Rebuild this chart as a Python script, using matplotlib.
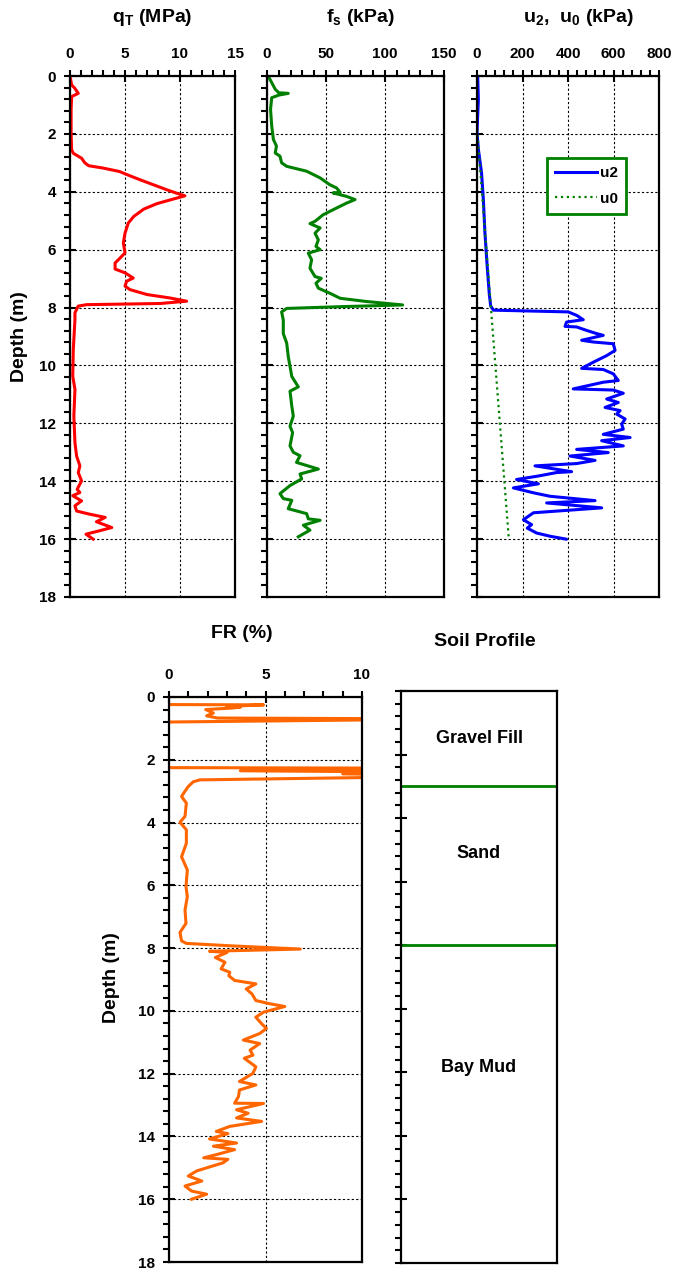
import numpy as np
import matplotlib
matplotlib.use('Agg')
import matplotlib.pyplot as plt
from matplotlib.ticker import MultipleLocator, NullLocator

plt.rcParams['font.family'] = ['Liberation Sans', 'DejaVu Sans']
plt.rcParams['font.weight'] = 'bold'
plt.rcParams['mathtext.fontset'] = 'custom'
plt.rcParams['mathtext.rm'] = 'Liberation Sans:bold'
plt.rcParams['mathtext.bf'] = 'Liberation Sans:bold'
plt.rcParams['mathtext.it'] = 'Liberation Sans:bold'

# cone tip resistance qT (MPa)
qt_depth = [0, 0.31, 0.43, 0.6, 0.71, 1.17, 2.0, 2.55, 2.67, 2.84, 3.0, 3.1, 3.18, 3.3, 3.41,
            3.59, 3.76, 3.93, 4.05, 4.14, 4.25, 4.41, 4.6, 4.85, 5.08, 5.43, 5.77, 6.11, 6.29,
            6.46, 6.67, 6.8, 6.98, 7.09, 7.26, 7.38, 7.55, 7.67, 7.78, 7.86, 7.9, 7.95, 8.18,
            8.41, 9.45, 10.37, 10.83, 11.75, 12.67, 13.13, 13.47, 13.7, 13.99, 14.28, 14.39,
            14.5, 14.68, 14.85, 15.03, 15.14, 15.25, 15.4, 15.6, 15.71, 15.83, 16.0]
qt_val = [0, 0.15, 0.45, 0.75, 0.15, 0.1, 0.1, 0.15, 0.3, 1.05, 1.35, 1.7, 3.0, 4.5, 5.2,
          6.4, 7.6, 8.8, 9.7, 10.45, 9.4, 7.9, 6.7, 5.8, 5.3, 5.0, 4.85, 5.0, 4.55,
          4.1, 4.1, 5.0, 5.75, 5.15, 5.0, 5.45, 7.0, 9.1, 10.6, 8.2, 1.5, 0.75, 0.45,
          0.45, 0.3, 0.25, 0.45, 0.35, 0.45, 0.6, 0.9, 0.75, 1.05, 0.65, 0.9,
          0.25, 1.05, 0.45, 0.6, 1.8, 3.2, 2.4, 3.8, 2.7, 1.45, 2.1]

# sleeve friction fs (kPa)
fs_depth = [0, 0.23, 0.46, 0.58, 0.6, 0.66, 0.75, 1.15, 1.73, 2.19, 2.42, 2.66, 2.77, 3.0,
            3.12, 3.29, 3.52, 3.75, 3.87, 4.02, 4.04, 4.16, 4.27, 4.39, 4.56, 4.79, 5.02,
            5.1, 5.25, 5.43, 5.66, 5.89, 6.0, 6.12, 6.35, 6.64, 6.93, 6.99, 7.16, 7.33,
            7.5, 7.68, 7.79, 7.91, 7.97, 8.03, 8.15, 8.43, 8.9, 9.23, 9.69, 10.03, 10.38,
            10.74, 10.89, 11.4, 11.75, 12.1, 12.32, 12.78, 13.0, 13.12, 13.35, 13.58,
            13.75, 13.92, 14.15, 14.43, 14.6, 14.66, 14.95, 15.12, 15.3, 15.35, 15.52,
            15.69, 15.92]
fs_val = [1, 4, 7, 10, 18, 10, 4, 3, 4, 5.4, 8, 7, 11, 12.4,
          16.7, 33.6, 45, 53, 59, 62, 56, 67.5, 74.6, 67.5, 59, 47.7, 40.7,
          36.4, 45, 40.7, 43.5, 41.5, 45, 35, 37.8, 36.4, 40.7, 46, 41.5, 43.5,
          53, 62, 84, 115, 62, 16.7, 12.4, 13.8, 13.8, 16.7, 18, 19.5, 21,
          26.5, 19.5, 21, 22.3, 19.5, 21.7, 19.5, 22.3, 28, 25, 43.5,
          28, 29.4, 19.5, 11, 13.8, 21, 18, 33.6, 35, 45, 30.8,
          36.4, 26.5]

# pore pressure u2 (kPa)
u2_depth = [0, 0.8, 1.95, 2.53, 3.35, 4.28, 5.44, 6.6, 7.53, 7.94, 8.09, 8.15, 8.27, 8.42,
            8.5, 8.65, 8.67, 8.79, 8.9, 8.96, 9.13, 9.19, 9.25, 9.48, 9.66, 9.89, 10.1,
            10.14, 10.29, 10.52, 10.58, 10.81, 10.85, 10.96, 11.16, 11.28, 11.45, 11.56,
            11.68, 11.85, 12.03, 12.2, 12.38, 12.49, 12.6, 12.78, 12.9, 13.01, 13.13,
            13.28, 13.39, 13.47, 13.67, 13.7, 13.82, 13.94, 14.09, 14.23, 14.4, 14.52,
            14.67, 14.75, 14.92, 15.09, 15.33, 15.5, 15.62, 15.79, 15.9, 16.0]
u2_val = [3, 6, 0, 6, 20, 28, 35, 45, 54, 60, 72, 401, 438, 467,
          394, 387, 438, 482, 526, 555, 460, 511, 599, 607, 570, 511, 460,
          555, 599, 621, 555, 423, 599, 643, 570, 621, 563, 629,
          614, 651, 636, 643, 555, 673, 548, 643, 438, 577, 409,
          519, 438, 255, 416, 350, 270, 174, 270, 160, 248, 321,
          519, 306, 548, 248, 204, 240, 221, 262, 321, 391]

# hydrostatic pore pressure u0 (kPa)
u0_depth = [0, 1.8, 16.0]
u0_val = [0, 0, 140]

# friction ratio FR (%)
fr_depth = [0, 0.24, 0.25, 0.3, 0.32, 0.35, 0.4, 0.51, 0.6, 0.67, 0.7, 0.8, 2.25, 2.27,
            2.35, 2.4, 2.45, 2.5, 2.55, 2.64, 2.7, 2.85, 3.0, 3.17, 3.38, 3.8, 3.99, 4.23,
            4.66, 5.09, 5.51, 6.04, 6.36, 6.79, 7.21, 7.5, 7.77, 7.85, 7.93, 8.03, 8.1,
            8.14, 8.3, 8.45, 8.66, 8.77, 8.88, 9.03, 9.14, 9.3, 9.46, 9.67, 9.77, 9.86,
            10.04, 10.2, 10.41, 10.56, 10.72, 10.93, 11.04, 11.25, 11.41, 11.51, 11.78,
            11.99, 12.25, 12.36, 12.52, 12.73, 12.94, 12.95, 13.15, 13.26, 13.41, 13.52,
            13.68, 13.84, 13.91, 14.08, 14.21, 14.31, 14.42, 14.58, 14.68, 14.73, 14.84,
            15.0, 15.1, 15.26, 15.42, 15.58, 15.74, 15.84, 16.0]
fr_val = [-0.5, -0.5, 4.9, 3.0, 3.7, 3.3, 1.9, 2.3, 1.95, 2.5, 15, -0.5, -0.5, 15,
          3.7, 15, 9.0, 15, 12, 1.6, 1.26, 1.0, 0.83, 0.65, 0.9, 0.83, 0.57, 0.9,
          0.9, 0.65, 0.95, 0.88, 0.95, 0.83, 0.88, 0.57, 0.65, 0.9, 3.3, 6.8, 2.1,
          3.0, 2.4, 2.9, 2.7, 3.15, 3.1, 3.4, 4.5, 4.0, 4.3, 4.5, 5.2, 6.0,
          4.9, 4.5, 4.8, 5.05, 4.7, 3.85, 4.7, 4.2, 4.35, 3.9, 4.5,
          4.35, 3.65, 4.5, 3.65, 3.6, 3.4, 4.9, 3.5, 4.1, 3.5, 4.8,
          3.15, 2.45, 3.05, 2.1, 3.5, 2.3, 3.4, 2.45, 1.8, 3.05, 2.8,
          1.95, 1.43, 1.0, 1.7, 0.83, 1.17, 1.95, 1.17]

# soil profile
layer_names = ['Gravel Fill', 'Sand', 'Bay Mud']
layer_label_depth = [1.5, 5.1, 11.85]
layer_bounds = [3.0, 8.0]

W, H = 673, 1270
fig = plt.figure(figsize=(W / 100, H / 100), dpi=100)


def box(l, r, t, b):
    return [l / W, 1 - b / H, (r - l) / W, (b - t) / H]


def style_axis(ax, xmax, xmajor, xminor, grid=True):
    ax.set_ylim(18, 0)
    ax.set_xlim(0, xmax)
    ax.xaxis.tick_top()
    ax.xaxis.set_major_locator(MultipleLocator(xmajor))
    ax.xaxis.set_minor_locator(MultipleLocator(xminor))
    ax.yaxis.set_major_locator(MultipleLocator(2))
    ax.yaxis.set_minor_locator(MultipleLocator(0.4))
    ax.tick_params(axis='x', which='major', direction='inout', length=8, width=1.5,
                   pad=7, labelsize=11)
    ax.tick_params(axis='x', which='minor', direction='out', length=4, width=1.5)
    ax.tick_params(axis='y', which='major', direction='inout', length=8, width=1.5,
                   pad=6, labelsize=11)
    ax.tick_params(axis='y', which='minor', direction='out', length=4, width=1.5)
    for s in ax.spines.values():
        s.set_linewidth(1.6)
    if grid:
        ax.grid(True, which='major', color='black', linestyle=(0, (2, 2)), linewidth=0.8)
    for lab in ax.get_xticklabels() + ax.get_yticklabels():
        lab.set_fontweight('bold')


ax1 = fig.add_axes(box(70, 235, 76, 597))
ax1.plot(qt_val, qt_depth, color='#ff0000', lw=2.2)
style_axis(ax1, 15, 5, 1)

ax2 = fig.add_axes(box(267, 444, 76, 597))
ax2.plot(fs_val, fs_depth, color='#008000', lw=2.2)
style_axis(ax2, 150, 50, 10)
ax2.set_yticklabels([])

ax3 = fig.add_axes(box(477, 659, 76, 597))
ax3.plot(u2_val, u2_depth, color='#0000ff', lw=2.2, label='u2')
ax3.plot(u0_val, u0_depth, color='#008000', lw=1.6, linestyle=':', label='u0')
style_axis(ax3, 800, 200, 40)
ax3.set_yticklabels([])
leg = ax3.legend(loc='upper left', bbox_to_anchor=(0.385, 0.843), borderaxespad=0,
                 fancybox=False, handlelength=2.7, handletextpad=0.2,
                 labelspacing=0.75, borderpad=0.55,
                 prop={'weight': 'bold', 'size': 11}, framealpha=1)
leg.get_frame().set_edgecolor('#008000')
leg.get_frame().set_linewidth(2)

ax4 = fig.add_axes(box(169, 362, 697, 1262))
ax4.plot(fr_val, fr_depth, color='#ff6600', lw=2.2)
style_axis(ax4, 10, 5, 1)

ax5 = fig.add_axes(box(401, 557, 691, 1263))
style_axis(ax5, 1, 1, 1, grid=False)
ax5.set_xticks([])
ax5.xaxis.set_minor_locator(NullLocator())
ax5.set_yticklabels([])
for d in layer_bounds:
    ax5.axhline(d, color='#008000', lw=2)
for name, d in zip(layer_names, layer_label_depth):
    ax5.text(0.5, d, name, ha='center', va='center', fontsize=13, fontweight='bold')

fig.text(152 / W, 1 - 17 / H, r'q$_{\mathrm{T}}$ (MPa)', ha='center', va='center', fontsize=14, fontweight='bold')
fig.text(360 / W, 1 - 17 / H, r'f$_{\mathrm{s}}$ (kPa)', ha='center', va='center', fontsize=14, fontweight='bold')
fig.text(578 / W, 1 - 17 / H, r'u$_{\mathrm{2}}$,  u$_{\mathrm{0}}$ (kPa)', ha='center', va='center', fontsize=14, fontweight='bold')
fig.text(242 / W, 1 - 633 / H, 'FR (%)', ha='center', va='center', fontsize=14, fontweight='bold')
fig.text(485 / W, 1 - 642 / H, 'Soil Profile', ha='center', va='center', fontsize=14, fontweight='bold')
fig.text(20 / W, 1 - 337 / H, 'Depth (m)', ha='center', va='center', rotation=90, fontsize=14, fontweight='bold')
fig.text(112 / W, 1 - 978 / H, 'Depth (m)', ha='center', va='center', rotation=90, fontsize=14, fontweight='bold')

fig.savefig('out.png', dpi=100)
